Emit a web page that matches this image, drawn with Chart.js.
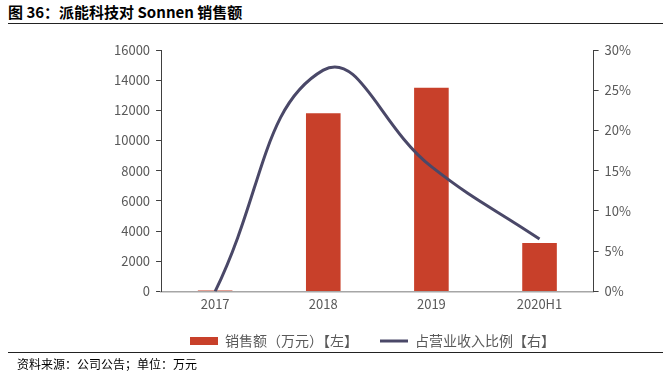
<!DOCTYPE html>
<html>
<head>
<meta charset="utf-8">
<script src="https://cdn.jsdelivr.net/npm/chart.js@4"></script>
<style>
  body { margin: 0; width: 663px; height: 372px; background: #fff; position: relative; overflow: hidden;
         font-family: "Noto Sans CJK SC", "Noto Sans", sans-serif; }
  #title { position: absolute; left: 8px; top: 1px; font-size: 15px; font-weight: bold; color: #000; }
  #topline { position: absolute; left: 8px; right: 0; top: 23px; border-top: 1.5px solid #222; }
  #footline { position: absolute; left: 8px; right: 0; top: 352px; border-top: 1.5px solid #222; }
  #source { position: absolute; left: 17px; top: 355px; font-size: 12px; color: #000; }
  #wrap { position: absolute; left: 0; top: 36px; width: 663px; height: 322px; }
</style>
</head>
<body>
<div id="title">图 36：派能科技对 Sonnen 销售额</div>
<div id="topline"></div>
<div id="wrap"><canvas id="chart"></canvas></div>
<div id="footline"></div>
<div id="source">资料来源：公司公告；单位：万元</div>
<script>
// Data
const categories = ['2017', '2018', '2019', '2020H1'];
const salesValues = [60, 11800, 13500, 3200];       // 万元, left axis
const shareValues = [0.0, 0.275, 0.155, 0.065];     // share of revenue, right axis
const leftTicks = [0, 2000, 4000, 6000, 8000, 10000, 12000, 14000, 16000];
const rightTicks = [0, 0.05, 0.10, 0.15, 0.20, 0.25, 0.30];

const textColor = '#595959';
const tickFont = { family: '"Noto Sans CJK SC", sans-serif', size: 13 };

const ctx = document.getElementById('chart').getContext('2d');
new Chart(ctx, {
    data: {
        labels: categories,
        datasets: [{
            type: 'bar',
            label: '销售额（万元）【左】',
            data: salesValues,
            backgroundColor: '#C8402A',
            categoryPercentage: 1,
            barPercentage: 0.32,
            yAxisID: 'y',
            order: 2
        }, {
            type: 'line',
            label: '占营业收入比例【右】',
            data: shareValues,
            borderColor: '#4A4868',
            backgroundColor: '#4A4868',
            borderWidth: 3,
            pointRadius: 0,
            tension: 0.45,
            yAxisID: 'y1',
            order: 1
        }]
    },
    options: {
        responsive: true,
        maintainAspectRatio: false,
        animation: false,
        layout: { padding: { left: 108, right: 26, top: 14, bottom: 0 } },
        plugins: {
            tooltip: { enabled: false },
            legend: {
                position: 'bottom',
                labels: {
                    color: textColor,
                    font: { family: '"Noto Sans CJK SC", sans-serif', size: 14 },
                    usePointStyle: true,
                    pointStyleWidth: 28,
                    boxHeight: 8,
                    padding: 22,
                    sort: (a, b) => a.datasetIndex - b.datasetIndex,
                    generateLabels: chart => {
                        const items = Chart.defaults.plugins.legend.labels.generateLabels(chart);
                        items.forEach(it => {
                            it.pointStyle = it.datasetIndex === 0 ? 'rect' : 'line';
                            if (it.datasetIndex === 0) it.lineWidth = 0;
                        });
                        return items;
                    }
                }
            }
        },
        scales: {
            x: {
                offset: true,
                grid: { display: false, drawTicks: false },
                border: { color: '#A6A6A6', width: 1.5 },
                ticks: { color: textColor, font: tickFont, padding: 5 },
                // let the legend sit a little closer to the category labels
                afterFit: axis => { axis.height -= 5; }
            },
            y: {
                position: 'left',
                min: 0,
                max: 16000,
                afterBuildTicks: axis => { axis.ticks = leftTicks.map(v => ({ value: v })); },
                grid: { drawOnChartArea: false, tickLength: 5, tickColor: '#404040' },
                border: { color: '#404040', width: 1 },
                ticks: { color: textColor, font: tickFont, padding: 6, callback: v => String(v) }
            },
            y1: {
                position: 'right',
                min: 0,
                max: 0.3,
                afterBuildTicks: axis => { axis.ticks = rightTicks.map(v => ({ value: v })); },
                grid: { drawOnChartArea: false, tickLength: 5, tickColor: '#404040' },
                border: { color: '#404040', width: 1 },
                ticks: {
                    color: textColor, font: tickFont, padding: 6,
                    callback: v => Math.round(v * 100) + '%'
                }
            }
        }
    }
});
</script>
</body>
</html>
